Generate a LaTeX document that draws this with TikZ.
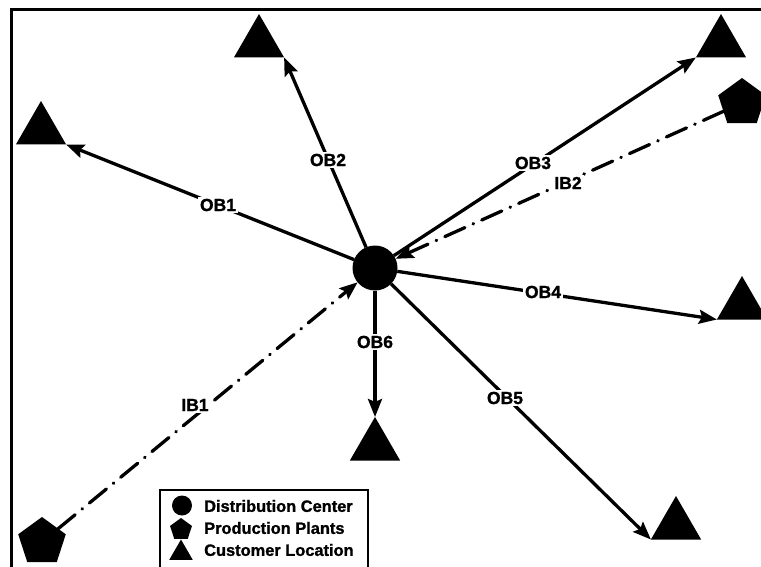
\documentclass[tikz,border=0pt]{standalone}
\usepackage{fontspec}
\setmainfont{Liberation Sans}
\newfontfamily\heavyfont{Liberation Sans Bold}[FakeBold=1.2]
\usetikzlibrary{shapes.geometric,arrows.meta}
\begin{document}
\begin{tikzpicture}[x=1pt,y=-1pt,
  tri/.style={regular polygon, regular polygon sides=3, fill=black, minimum size=58pt, inner sep=0pt, outer sep=0pt},
  pent/.style={regular polygon, regular polygon sides=5, fill=black, minimum size=50pt, inner sep=0pt, outer sep=0pt},
  dc/.style={circle, fill=black, minimum size=45pt, inner sep=0pt, outer sep=0pt},
  arr/.style={line width=3.3pt, -{Stealth[length=18pt,width=14pt,inset=3pt]}},
  dd/.style={line width=3.3pt, line cap=round, dash pattern=on 22pt off 9pt on 0.5pt off 9pt, -{Stealth[length=18pt,width=14pt,inset=3pt]}},
  lab/.style={fill=white, inner sep=2pt, font=\fontsize{17.5}{18}\selectfont\heavyfont},
  legtxt/.style={anchor=west, inner sep=0pt, font=\fontsize{16.4}{18}\selectfont\heavyfont}]
\useasboundingbox (0,0) rectangle (761,567);
\clip (0,0) rectangle (761,567);
% frame
\draw[line width=3pt] (11,575) -- (11,10) -- (765,10);
% nodes
\node[dc] (C) at (375,268) {};
\node[tri] (T1) at (41,130) {};
\node[tri] (T2) at (259,43) {};
\node[tri] (T3) at (721,43) {};
\node[tri] (T4) at (742,305) {};
\node[tri] (T5) at (375,446) {};
\node[tri] (T6) at (676,525) {};
\node[pent] (P1) at (742,103) {};
\node[pent] (P2) at (42,542) {};
% connectors
\draw[arr] (C) -- (T1.corner 3);
\draw[arr] (C) -- (T2.corner 3);
\draw[arr] (C) -- (T3.corner 2);
\draw[arr] (C) -- (T4.corner 2);
\draw[arr] (C) -- (T6.corner 2);
\draw[arr] (C) -- (T5.corner 1);
\draw[dd] (P1) -- (C);
\draw[dd] (P2) -- (C);
% labels
\node[lab] (ob1) at (218,205) {OB1};
\node[lab] (ob2) at (328,160) {OB2};
\node[lab] (ob3) at (533,163) {OB3};
\node[lab] (ib2) at (568,183) {IB2};
\node[lab] (ob4) at (543,292) {OB4};
\node[lab] (ob6) at (375,342) {OB6};
\node[lab] (ob5) at (505,398) {OB5};
\node[lab] (ib1) at (195,405) {IB1};
% legend
\draw[line width=1.5pt, fill=white] (160,490) rectangle (368,580);
\node[dc, minimum size=20pt] (lc) at (182,505.5) {};
\node[pent, minimum size=23pt] (lp) at (181,529.5) {};
\node[tri, minimum size=27pt] (lt) at (181,553) {};
\node[legtxt] (l1) at (204,506) {Distribution Center};
\node[legtxt] (l2) at (204,528) {Production Plants};
\node[legtxt] (l3) at (204,550) {Customer Location};
\end{tikzpicture}
\end{document}
